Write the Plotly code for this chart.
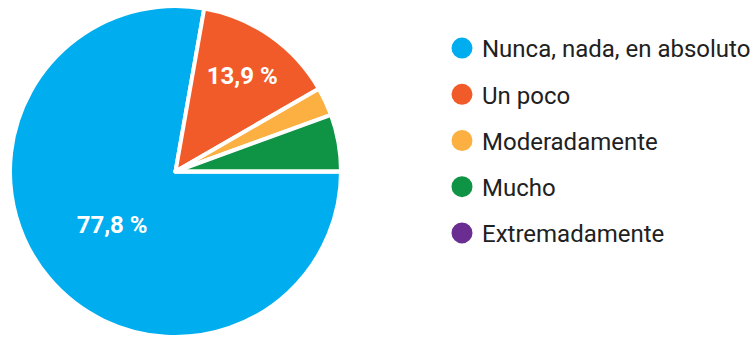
import plotly.graph_objects as go

categories = ["Nunca, nada, en absoluto", "Un poco", "Moderadamente", "Mucho", "Extremadamente"]
values = [28, 5, 1, 2, 0]
colors = ["#00ADEF", "#F15B2A", "#FBB041", "#0F9345", "#6A2D91"]

total = sum(values)
labels_txt = [
    (f"{v / total * 100:.1f} %".replace(".", ",") if v / total >= 0.1 else "")
    for v in values
]

fig = go.Figure()
fig.add_trace(go.Pie(
    labels=categories,
    values=values,
    text=labels_txt,
    textinfo="text",
    textposition="inside",
    insidetextorientation="horizontal",
    insidetextfont=dict(family="Roboto", size=24, color="white", weight="bold"),
    marker=dict(colors=colors, line=dict(color="white", width=4)),
    sort=False,
    direction="clockwise",
    rotation=90,
    showlegend=False,
    hoverinfo="label+percent",
    domain=dict(x=[10 / 755, 341 / 755], y=[0, 331 / 337]),
))

for cat, col in zip(categories, colors):
    fig.add_trace(go.Scatter(
        x=[None], y=[None], mode="markers", name=cat,
        marker=dict(color=col, size=16, symbol="circle", line=dict(color=col, width=5)),
        legendgroup=cat, showlegend=True,
    ))

fig.update_layout(
    width=755, height=337,
    margin=dict(l=0, r=0, t=0, b=0, autoexpand=False),
    paper_bgcolor="white", plot_bgcolor="white",
    xaxis=dict(visible=False), yaxis=dict(visible=False),
    font=dict(family="Roboto", color="#212121"),
    legend=dict(
        x=442 / 755, xanchor="left",
        y=1 - 140.5 / 337, yanchor="middle",
        font=dict(family="Roboto", size=24, color="#212121"),
        tracegroupgap=12,
        traceorder="grouped",
        itemwidth=30,
        bgcolor="rgba(0,0,0,0)",
    ),
)

fig.write_html("out.html")
